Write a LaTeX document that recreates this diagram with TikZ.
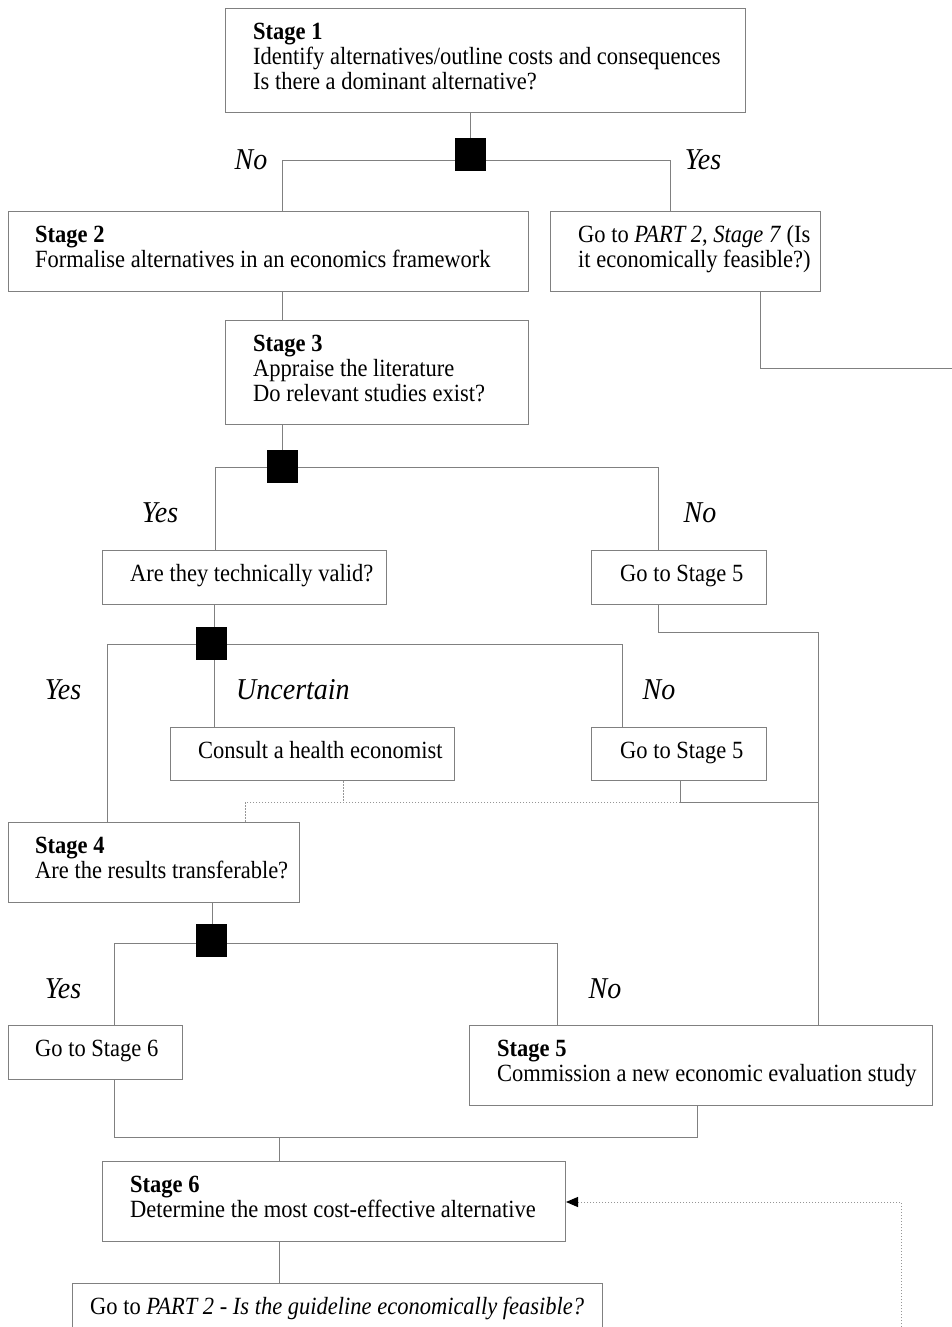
\documentclass[tikz,border=0pt]{standalone}
\usepackage{fontspec}
\setmainfont{Liberation Serif}
\usepackage{graphicx}
\usetikzlibrary{arrows.meta}
\definecolor{linegray}{RGB}{128,128,128}
\definecolor{dotgray}{RGB}{150,150,150}
\newcommand{\boxtext}[1]{\scalebox{1}[1.1]{\begin{tabular}[t]{@{}l@{}}#1\end{tabular}}}
\newcommand{\lbltext}[1]{\scalebox{1}[1.08]{\itshape #1}}
\begin{document}
\begin{tikzpicture}[x=1pt,y=-1pt,
  flowbox/.style={draw=linegray, line width=1pt, rectangle, inner sep=0pt, anchor=north west},
  boxtxt/.style={inner sep=0pt, anchor=base west, font=\fontsize{22.5}{22.7}\selectfont},
  branchlbl/.style={inner sep=0pt, anchor=base, font=\fontsize{28}{30}\selectfont},
  decision/.style={fill=black, draw=black, line width=0.5pt, minimum width=30pt, minimum height=32pt, inner sep=0pt},
  conn/.style={draw=linegray, line width=1pt},
  dotconn/.style={draw=dotgray, line width=1pt, dash pattern=on 1.5pt off 1.5pt}]
\useasboundingbox (0,0) rectangle (952,1327);
\clip (0,0) rectangle (952,1327);
\fill[white] (0,0) rectangle (952,1327);

% boxes
\node[flowbox, minimum width=520pt, minimum height=104pt] (s1) at (225,8) {};
\node[flowbox, minimum width=520pt, minimum height=80pt] (s2) at (8,211) {};
\node[flowbox, minimum width=270pt, minimum height=80pt] (yes1) at (550,211) {};
\node[flowbox, minimum width=303pt, minimum height=104pt] (s3) at (225,320) {};
\node[flowbox, minimum width=284pt, minimum height=54pt] (valid) at (102,550) {};
\node[flowbox, minimum width=175pt, minimum height=54pt] (g5a) at (591,550) {};
\node[flowbox, minimum width=284pt, minimum height=53pt] (consult) at (170,727) {};
\node[flowbox, minimum width=175pt, minimum height=53pt] (g5b) at (591,727) {};
\node[flowbox, minimum width=291pt, minimum height=80pt] (s4) at (8,822) {};
\node[flowbox, minimum width=174pt, minimum height=54pt] (g6) at (8,1025) {};
\node[flowbox, minimum width=463pt, minimum height=80pt] (s5) at (469,1025) {};
\node[flowbox, minimum width=463pt, minimum height=80pt] (s6) at (102,1161) {};
\node[flowbox, minimum width=530pt, minimum height=70pt] (final) at (72,1283) {};

% box texts
\node[boxtxt] (s1t) at (253,39.5) {\boxtext{\textbf{Stage 1}\\Identify alternatives/outline costs and consequences\\Is there a dominant alternative?}};
\node[boxtxt] (s2t) at (35,242.5) {\boxtext{\textbf{Stage 2}\\Formalise alternatives in an economics framework}};
\node[boxtxt] (yes1t) at (578,242.5) {\boxtext{Go to \textit{PART 2}, \textit{Stage 7} (Is\\it economically feasible?)}};
\node[boxtxt] (s3t) at (253,351.5) {\boxtext{\textbf{Stage 3}\\Appraise the literature\\Do relevant studies exist?}};
\node[boxtxt] (validt) at (130,581.5) {\boxtext{Are they technically valid?}};
\node[boxtxt] (g5at) at (620,581.5) {\boxtext{Go to Stage 5}};
\node[boxtxt] (consultt) at (198,758.5) {\boxtext{Consult a health economist}};
\node[boxtxt] (g5bt) at (620,758.5) {\boxtext{Go to Stage 5}};
\node[boxtxt] (s4t) at (35,853.5) {\boxtext{\textbf{Stage 4}\\Are the results transferable?}};
\node[boxtxt] (g6t) at (35,1056.5) {\boxtext{Go to Stage 6}};
\node[boxtxt] (s5t) at (497,1056.5) {\boxtext{\textbf{Stage 5}\\Commission a new economic evaluation study}};
\node[boxtxt] (s6t) at (130,1192.5) {\boxtext{\textbf{Stage 6}\\Determine the most cost-effective alternative}};
\node[boxtxt] (finalt) at (90,1314.5) {\boxtext{Go to \textit{PART 2 - Is the guideline economically feasible?}}};

% branch labels
\node[branchlbl] (l1n) at (251,169) {\lbltext{No}};
\node[branchlbl] (l1y) at (703,169) {\lbltext{Yes}};
\node[branchlbl] (l2y) at (160,522) {\lbltext{Yes}};
\node[branchlbl] (l2n) at (700,522) {\lbltext{No}};
\node[branchlbl] (l3y) at (63,699) {\lbltext{Yes}};
\node[branchlbl, anchor=base west] (l3u) at (236,699) {\lbltext{Uncertain}};
\node[branchlbl] (l3n) at (659,699) {\lbltext{No}};
\node[branchlbl] (l4y) at (63,998) {\lbltext{Yes}};
\node[branchlbl] (l4n) at (605,998) {\lbltext{No}};

% decision squares (positions)
\coordinate (d1c) at (470,154);
\coordinate (d2c) at (282,466.5);
\coordinate (d3c) at (211,643);
\coordinate (d4c) at (211,940.5);

% junction coordinates
\coordinate (j1L) at (282,160);
\coordinate (j1R) at (670,160);
\coordinate (e1) at (760,368);
\coordinate (exitR) at (952,368);
\coordinate (j2L) at (215,467);
\coordinate (j2R) at (658,467);
\coordinate (j3L) at (107,644);
\coordinate (j3M) at (214,644);
\coordinate (j3R) at (622,644);
\coordinate (k1) at (658,632);
\coordinate (k2) at (818,632);
\coordinate (m1) at (680,802);
\coordinate (m2) at (818,802);
\coordinate (n1) at (343,802);
\coordinate (n2) at (245,802);
\coordinate (j4L) at (114,943);
\coordinate (j4M) at (212,943);
\coordinate (j4R) at (557,943);
\coordinate (p1) at (114,1137);
\coordinate (p2) at (697,1137);
\coordinate (p3) at (279,1137);
\coordinate (q0) at (901,1327);
\coordinate (q1) at (901,1202);

% connectors
\draw[conn] (s1.south -| d1c) -- (d1c);
\draw[conn] (s2.north -| j1L) -- (j1L) -- (j1R) -- (yes1.north -| j1R);
\draw[conn] (yes1.south -| e1) -- (e1) -- (exitR);
\draw[conn] (s2.south -| j1L) -- (s3.north -| j1L);
\draw[conn] (s3.south -| d2c) -- (d2c);
\draw[conn] (valid.north -| j2L) -- (j2L) -- (j2R) -- (g5a.north -| j2R);
\draw[conn] (valid.south -| j3M) -- (j3M);
\draw[conn] (s4.north -| j3L) -- (j3L) -- (j3R) -- (g5b.north -| j3R);
\draw[conn] (j3M) -- (consult.north -| j3M);
\draw[conn] (g5a.south -| k1) -- (k1) -- (k2) -- (s5.north -| k2);
\draw[conn] (g5b.south -| m1) -- (m1) -- (m2);
\draw[dotconn] (consult.south -| n1) -- (n1);
\draw[dotconn] (m1) -- (n2) -- (s4.north -| n2);
\draw[conn] (s4.south -| j4M) -- (j4M);
\draw[conn] (g6.north -| j4L) -- (j4L) -- (j4R) -- (s5.north -| j4R);
\draw[conn] (g6.south -| p1) -- (p1) -- (p2) -- (s5.south -| p2);
\draw[conn] (p3) -- (s6.north -| p3);
\draw[conn] (s6.south -| p3) -- (final.north -| p3);
\draw[dotconn, -{Triangle[length=12pt,width=10pt,black]}] (q0) -- (q1) -- (s6.east |- q1);

% decision squares
\node[decision] (d1) at (d1c) {};
\node[decision] (d2) at (d2c) {};
\node[decision] (d3) at (d3c) {};
\node[decision] (d4) at (d4c) {};
\end{tikzpicture}
\end{document}
